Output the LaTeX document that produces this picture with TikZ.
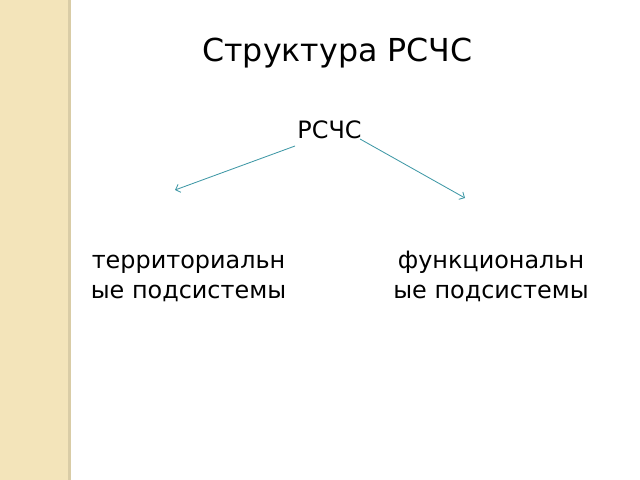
\documentclass[tikz,border=0pt]{standalone}
\usepackage{fontspec}
\setmainfont{DejaVu Sans}
\usetikzlibrary{arrows.meta}
\definecolor{stripe}{HTML}{F3E4BA}
\definecolor{stripeedge}{HTML}{D9CCA6}
\definecolor{linkcol}{HTML}{3F98A6}

\begin{document}
\begin{tikzpicture}[x=0.025cm,y=-0.025cm,
  label/.style={inner sep=0pt,font=\fontsize{17pt}{21.3pt}\selectfont,align=center},
  link/.style={draw=linkcol,line width=0.6pt,-{Straight Barb[length=3pt,width=6pt]}}]
\useasboundingbox (0,0) rectangle (640,480);
% Left stripe
\fill[stripe] (0,0) rectangle (68,480);
\fill[stripeedge] (68,0) rectangle (71,480);

% Title
\node[inner sep=0pt,anchor=base,font=\fontsize{22.5pt}{28pt}\selectfont] (title) at (337.5,62) {Структура РСЧС};

% Nodes
\node[label,anchor=base] (root) at (329.5,138) {РСЧС};
\node[label,anchor=base] (terr) at (188.5,298) {территориальн\\ые подсистемы};
\node[label,anchor=base] (func) at (491,298) {функциональн\\ые подсистемы};

% Arrows
\coordinate (lstart) at (295,146);
\coordinate (lend) at (175,190);
\coordinate (rstart) at (360,139);
\coordinate (rend) at (465,198);
\draw[link] (lstart) -- (lend);
\draw[link] (rstart) -- (rend);
\end{tikzpicture}
\end{document}
